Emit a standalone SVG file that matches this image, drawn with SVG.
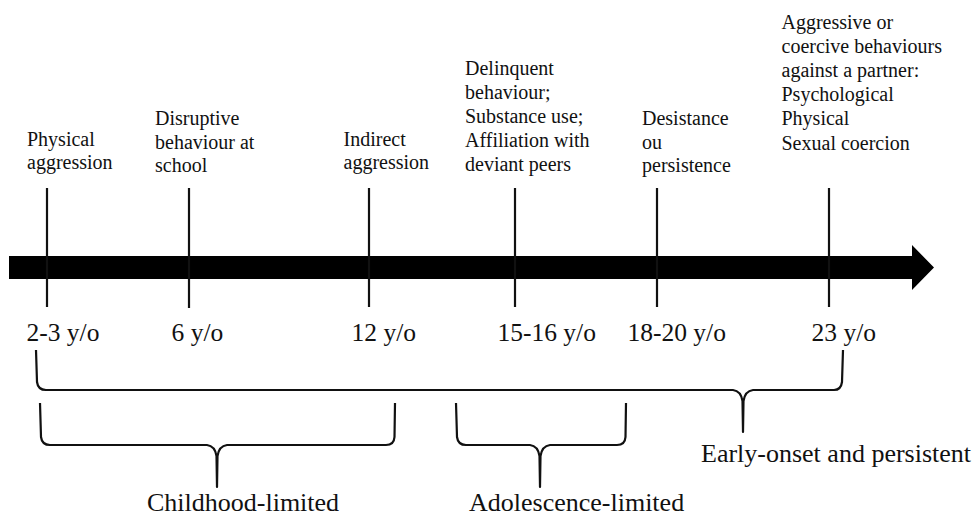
<svg xmlns="http://www.w3.org/2000/svg" width="973" height="517" viewBox="0 0 973 517">
<style>
text{font-family:"Liberation Serif","Times New Roman",serif;fill:#111}
.top{font-size:20px}
.age{font-size:25.5px}
.grp{font-size:26px}
.tick{stroke:#111;stroke-width:2.2;fill:none}
.brace{stroke:#111;stroke-width:2.2;fill:none;stroke-linejoin:round}
</style>
<rect width="973" height="517" fill="#fff"/>
<g id="timeline">
<polygon points="9,256 912,256 912,245 934,267.5 912,290 912,279 9,279" fill="#000"/>
</g>
<g id="connectors">
<line class="tick" x1="47" y1="188" x2="47" y2="307"/>
<line class="tick" x1="189" y1="188" x2="189" y2="308"/>
<line class="tick" x1="369" y1="188" x2="369" y2="307"/>
<line class="tick" x1="515" y1="188" x2="515" y2="307"/>
<line class="tick" x1="657" y1="188" x2="657" y2="307"/>
<line class="tick" x1="829" y1="188" x2="829" y2="307"/>
</g>
<g id="m1">
<text class="top" x="27"><tspan x="27" y="145.5">Physical</tspan><tspan x="27" y="168.5">aggression</tspan></text>
<text class="age" x="26.5" y="341">2-3 y/o</text>
</g>
<g id="m2">
<text class="top"><tspan x="155" y="125">Disruptive</tspan><tspan x="155" y="148.5">behaviour at</tspan><tspan x="155" y="172">school</tspan></text>
<text class="age" x="171.5" y="341">6 y/o</text>
</g>
<g id="m3">
<text class="top"><tspan x="343.5" y="145.5">Indirect</tspan><tspan x="343.5" y="168.5">aggression</tspan></text>
<text class="age" x="351.5" y="341">12 y/o</text>
</g>
<g id="m4">
<text class="top"><tspan x="465" y="75">Delinquent</tspan><tspan x="465" y="99">behaviour;</tspan><tspan x="465" y="123">Substance use;</tspan><tspan x="465" y="147">Affiliation with</tspan><tspan x="465" y="171">deviant peers</tspan></text>
<text class="age" x="497.5" y="341">15-16 y/o</text>
</g>
<g id="m5">
<text class="top"><tspan x="642" y="125">Desistance</tspan><tspan x="642" y="148.5">ou</tspan><tspan x="642" y="172">persistence</tspan></text>
<text class="age" x="627.5" y="341">18-20 y/o</text>
</g>
<g id="m6">
<text class="top"><tspan x="781.5" y="28.5">Aggressive or</tspan><tspan x="781.5" y="52.5">coercive behaviours</tspan><tspan x="781.5" y="76.5">against a partner:</tspan><tspan x="781.5" y="100.5">Psychological</tspan><tspan x="781.5" y="125">Physical</tspan><tspan x="781.5" y="149.5">Sexual coercion</tspan></text>
<text class="age" x="811.5" y="341">23 y/o</text>
</g>
<g id="early-onset">
<path class="brace" d="M36,350 L37,382 Q38,390 46,390 H733 Q741,391 742.5,401 L743,432 L743.5,401 Q745,391 753,390 H834 Q841,390 842,382 L843,350"/>
<text class="grp" x="701" y="461.5">Early-onset and persistent</text>
</g>
<g id="childhood">
<path class="brace" d="M40,403 L41,437 Q42,445 50,445 H207 Q215,446 216.5,456 L217,487 L217.5,456 Q219,446 227,445 H386 Q394,445 394.5,437 L395,403"/>
<text class="grp" x="147" y="511">Childhood-limited</text>
</g>
<g id="adolescence">
<path class="brace" d="M456,403 L457,437 Q458,445 466,445 H530 Q538,446 539.5,456 L540,487 L540.5,456 Q542,446 550,445 H617 Q625,445 625.5,437 L626,403"/>
<text class="grp" x="469" y="511">Adolescence-limited</text>
</g>
</svg>
